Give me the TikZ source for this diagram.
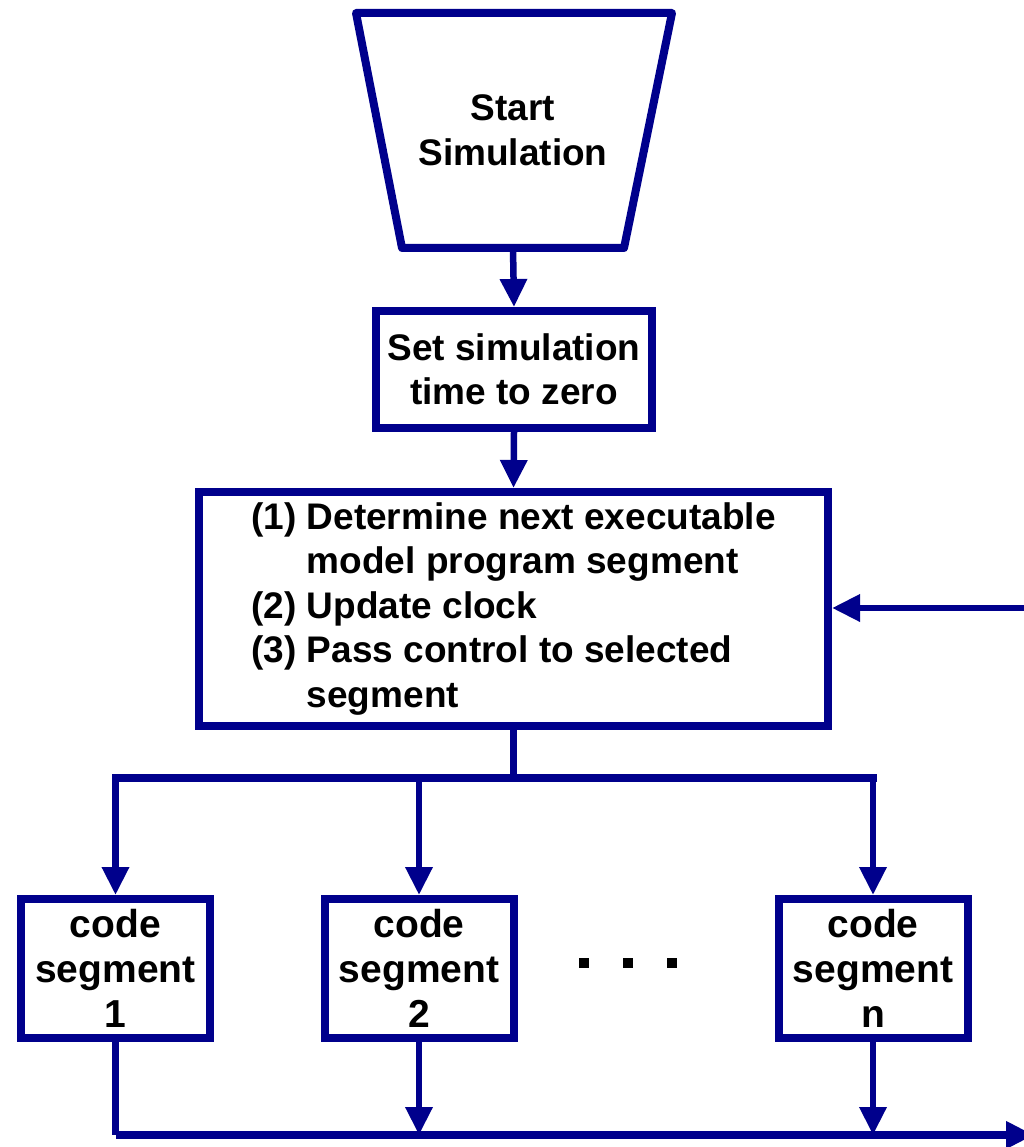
\documentclass[tikz,border=0pt]{standalone}
\usepackage{fontspec}
\setmainfont{Liberation Sans}
\usetikzlibrary{arrows.meta}
\definecolor{navy}{RGB}{0,0,140}
\begin{document}
\begin{tikzpicture}[x=1pt,y=-1pt,
  box/.style={draw=navy,line width=8pt,fill=white,inner sep=0pt,align=center,
    font=\fontsize{37}{44.5}\selectfont\bfseries},
  codebox/.style={box,minimum width=189pt,minimum height=139pt,
    font=\fontsize{39}{45}\selectfont\bfseries},
  conn/.style={draw=navy,line width=6.5pt},
  bus/.style={draw=navy,line width=8pt,line cap=rect},
  arr/.style={-{Triangle[width=26pt,length=28pt]}},
  dot/.style={fill=black,minimum size=10pt,inner sep=0pt}]
\useasboundingbox (0,0) rectangle (1024,1147);
% start trapezoid
\draw[navy,line width=8pt,line join=round] (356,13) -- (672,13) -- (624,248) -- (402,248) -- cycle;
\node[font=\fontsize{37}{45}\selectfont\bfseries,align=center] (start) at (513,130) {Start\\Simulation};
\coordinate (startb) at (513,248);
% boxes
\node[box,minimum width=276pt,minimum height=117pt] (settime) at (514,369.5) {Set simulation\\time to zero};
\node[box,minimum width=629pt,minimum height=234pt,align=left] (exec) at (513.5,609)
  {(1) Determine next executable\\
   \hphantom{(1) }model program segment\\
   (2) Update clock\\
   (3) Pass control to selected\\
   \hphantom{(1) }segment};
\node[codebox] (cs1) at (115.5,968.5) {code\\segment\\1};
\node[codebox] (cs2) at (419,968.5) {code\\segment\\2};
\node[codebox] (csn) at (873,968.5) {code\\segment\\n};
\node[dot] (d1) at (584,963) {};
\node[dot] (d2) at (628,963) {};
\node[dot] (d3) at (672,963) {};
% coordinates
\coordinate (split) at (513.5,778);
\coordinate (busl) at (115.5,778);
\coordinate (busr) at (873,778);
\coordinate (fbin) at (1030,608);
\coordinate (outr) at (1034,1135);
% connectors
\draw[conn,arr] (startb) -- (settime.north);
\draw[conn,arr] (settime.south) -- (exec.north);
\draw[conn,arr] (fbin) -- (fbin -| exec.east);
\draw[conn] (exec.south) -- (split);
\draw[bus] (busl) -- (busr);
\draw[conn,arr] (busl) -- (cs1.north);
\draw[conn,arr] (busl -| cs2) -- (cs2.north);
\draw[conn,arr] (busr) -- (csn.north);
\draw[conn] (cs1.south) -- (cs1.south |- outr);
\draw[bus,arr,line cap=butt] (cs1.south |- outr) -- (outr);
\draw[conn,arr] (cs2.south) -- (cs2.south |- outr);
\draw[conn,arr] (csn.south) -- (csn.south |- outr);
\end{tikzpicture}
\end{document}
